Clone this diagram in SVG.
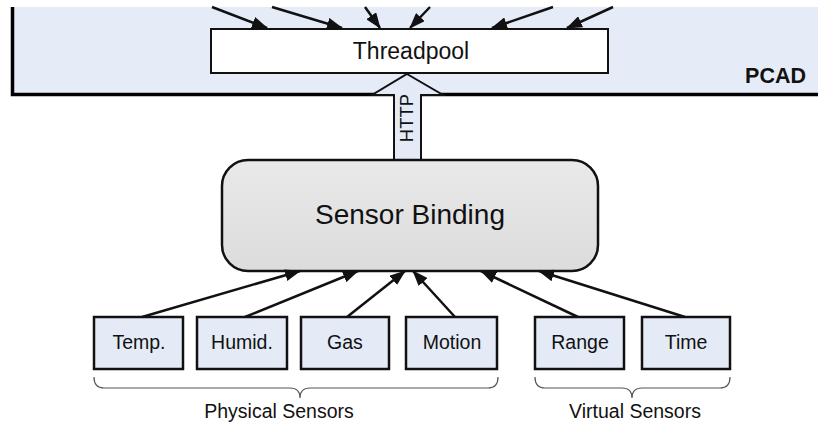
<svg xmlns="http://www.w3.org/2000/svg" width="818" height="425" viewBox="0 0 818 425">
<style>
text{font-family:"Liberation Sans",Arial,sans-serif;fill:#111}
.box{fill:#e4ebf6;stroke:#111;stroke-width:2.5}
.lbl{font-size:19.5px;text-anchor:middle}
.con{stroke:#111;stroke-width:2.5;fill:none;marker-end:url(#ah)}
.brace{fill:none;stroke:#555;stroke-width:1.2}
</style>
<defs>
<marker id="ah" viewBox="0 0 16 12" refX="15" refY="6" markerWidth="16" markerHeight="12" markerUnits="userSpaceOnUse" orient="auto">
<path d="M0,0 L16,6 L0,12 z" fill="#111"/>
</marker>
<linearGradient id="gb" x1="0" y1="0" x2="0" y2="1">
<stop offset="0" stop-color="#e9e9e9"/>
<stop offset="1" stop-color="#dcdcdc"/>
</linearGradient>
</defs>
<rect width="818" height="425" fill="#fff"/>
<g id="pcad">
<rect x="12" y="7" width="806" height="87" fill="#e5ecf7"/>
<path d="M12.5,7 V94.5 H818" fill="none" stroke="#000" stroke-width="3.5"/>
<text x="806" y="83" font-size="21.5" font-weight="bold" text-anchor="end">PCAD</text>
</g>
<g id="threadpool">
<rect x="211" y="29" width="397" height="44" fill="#fff" stroke="#111" stroke-width="2"/>
<text x="411" y="59" font-size="23" text-anchor="middle">Threadpool</text>
</g>
<g id="http">
<polygon points="407,74 443,95 421,95 421,161 394,161 394,95 372,95" fill="#e4ebf6" stroke="#111" stroke-width="2"/>
<text transform="translate(413,118) rotate(-90)" font-size="18.5" text-anchor="middle">HTTP</text>
</g>
<g id="sensor-binding">
<rect x="222" y="160" width="376" height="111" rx="26" ry="26" fill="url(#gb)" stroke="#111" stroke-width="2.5"/>
<text x="410" y="224" font-size="28" text-anchor="middle">Sensor Binding</text>
</g>
<g id="connectors">
<line class="con" x1="212" y1="7" x2="267" y2="28"/>
<line class="con" x1="272" y1="7" x2="342" y2="28"/>
<line class="con" x1="365" y1="7" x2="380" y2="28"/>
<line class="con" x1="430" y1="7" x2="410" y2="28"/>
<line class="con" x1="553" y1="7" x2="492" y2="28"/>
<line class="con" x1="613" y1="7" x2="567" y2="28"/>
<line class="con" x1="142" y1="317" x2="300" y2="271"/>
<line class="con" x1="245" y1="317" x2="358" y2="271"/>
<line class="con" x1="347" y1="317" x2="405" y2="271"/>
<line class="con" x1="455" y1="317" x2="413" y2="271"/>
<line class="con" x1="578" y1="317" x2="481" y2="271"/>
<line class="con" x1="685" y1="317" x2="539" y2="271"/>
</g>
<g id="temp"><rect class="box" x="94" y="317" width="89" height="52"/><text class="lbl" x="139" y="349">Temp.</text></g>
<g id="humid"><rect class="box" x="197" y="317" width="90" height="52"/><text class="lbl" x="242" y="349">Humid.</text></g>
<g id="gas"><rect class="box" x="301" y="317" width="88" height="52"/><text class="lbl" x="345" y="349">Gas</text></g>
<g id="motion"><rect class="box" x="406" y="317" width="91" height="52"/><text class="lbl" x="452" y="349">Motion</text></g>
<g id="range"><rect class="box" x="535" y="317" width="89" height="52"/><text class="lbl" x="580" y="349">Range</text></g>
<g id="time"><rect class="box" x="642" y="317" width="88" height="52"/><text class="lbl" x="686" y="349">Time</text></g>
<g id="physical-sensors">
<path class="brace" d="M94,377 Q94,388 104,388 H290 Q300,388 300,398 Q300,388 310,388 H488 Q498,388 498,377"/>
<text class="lbl" x="279" y="418">Physical Sensors</text>
</g>
<g id="virtual-sensors">
<path class="brace" d="M535,377 Q535,388 545,388 H622 Q632,388 632,398 Q632,388 642,388 H720 Q730,388 730,377"/>
<text class="lbl" x="635" y="418">Virtual Sensors</text>
</g>
</svg>
